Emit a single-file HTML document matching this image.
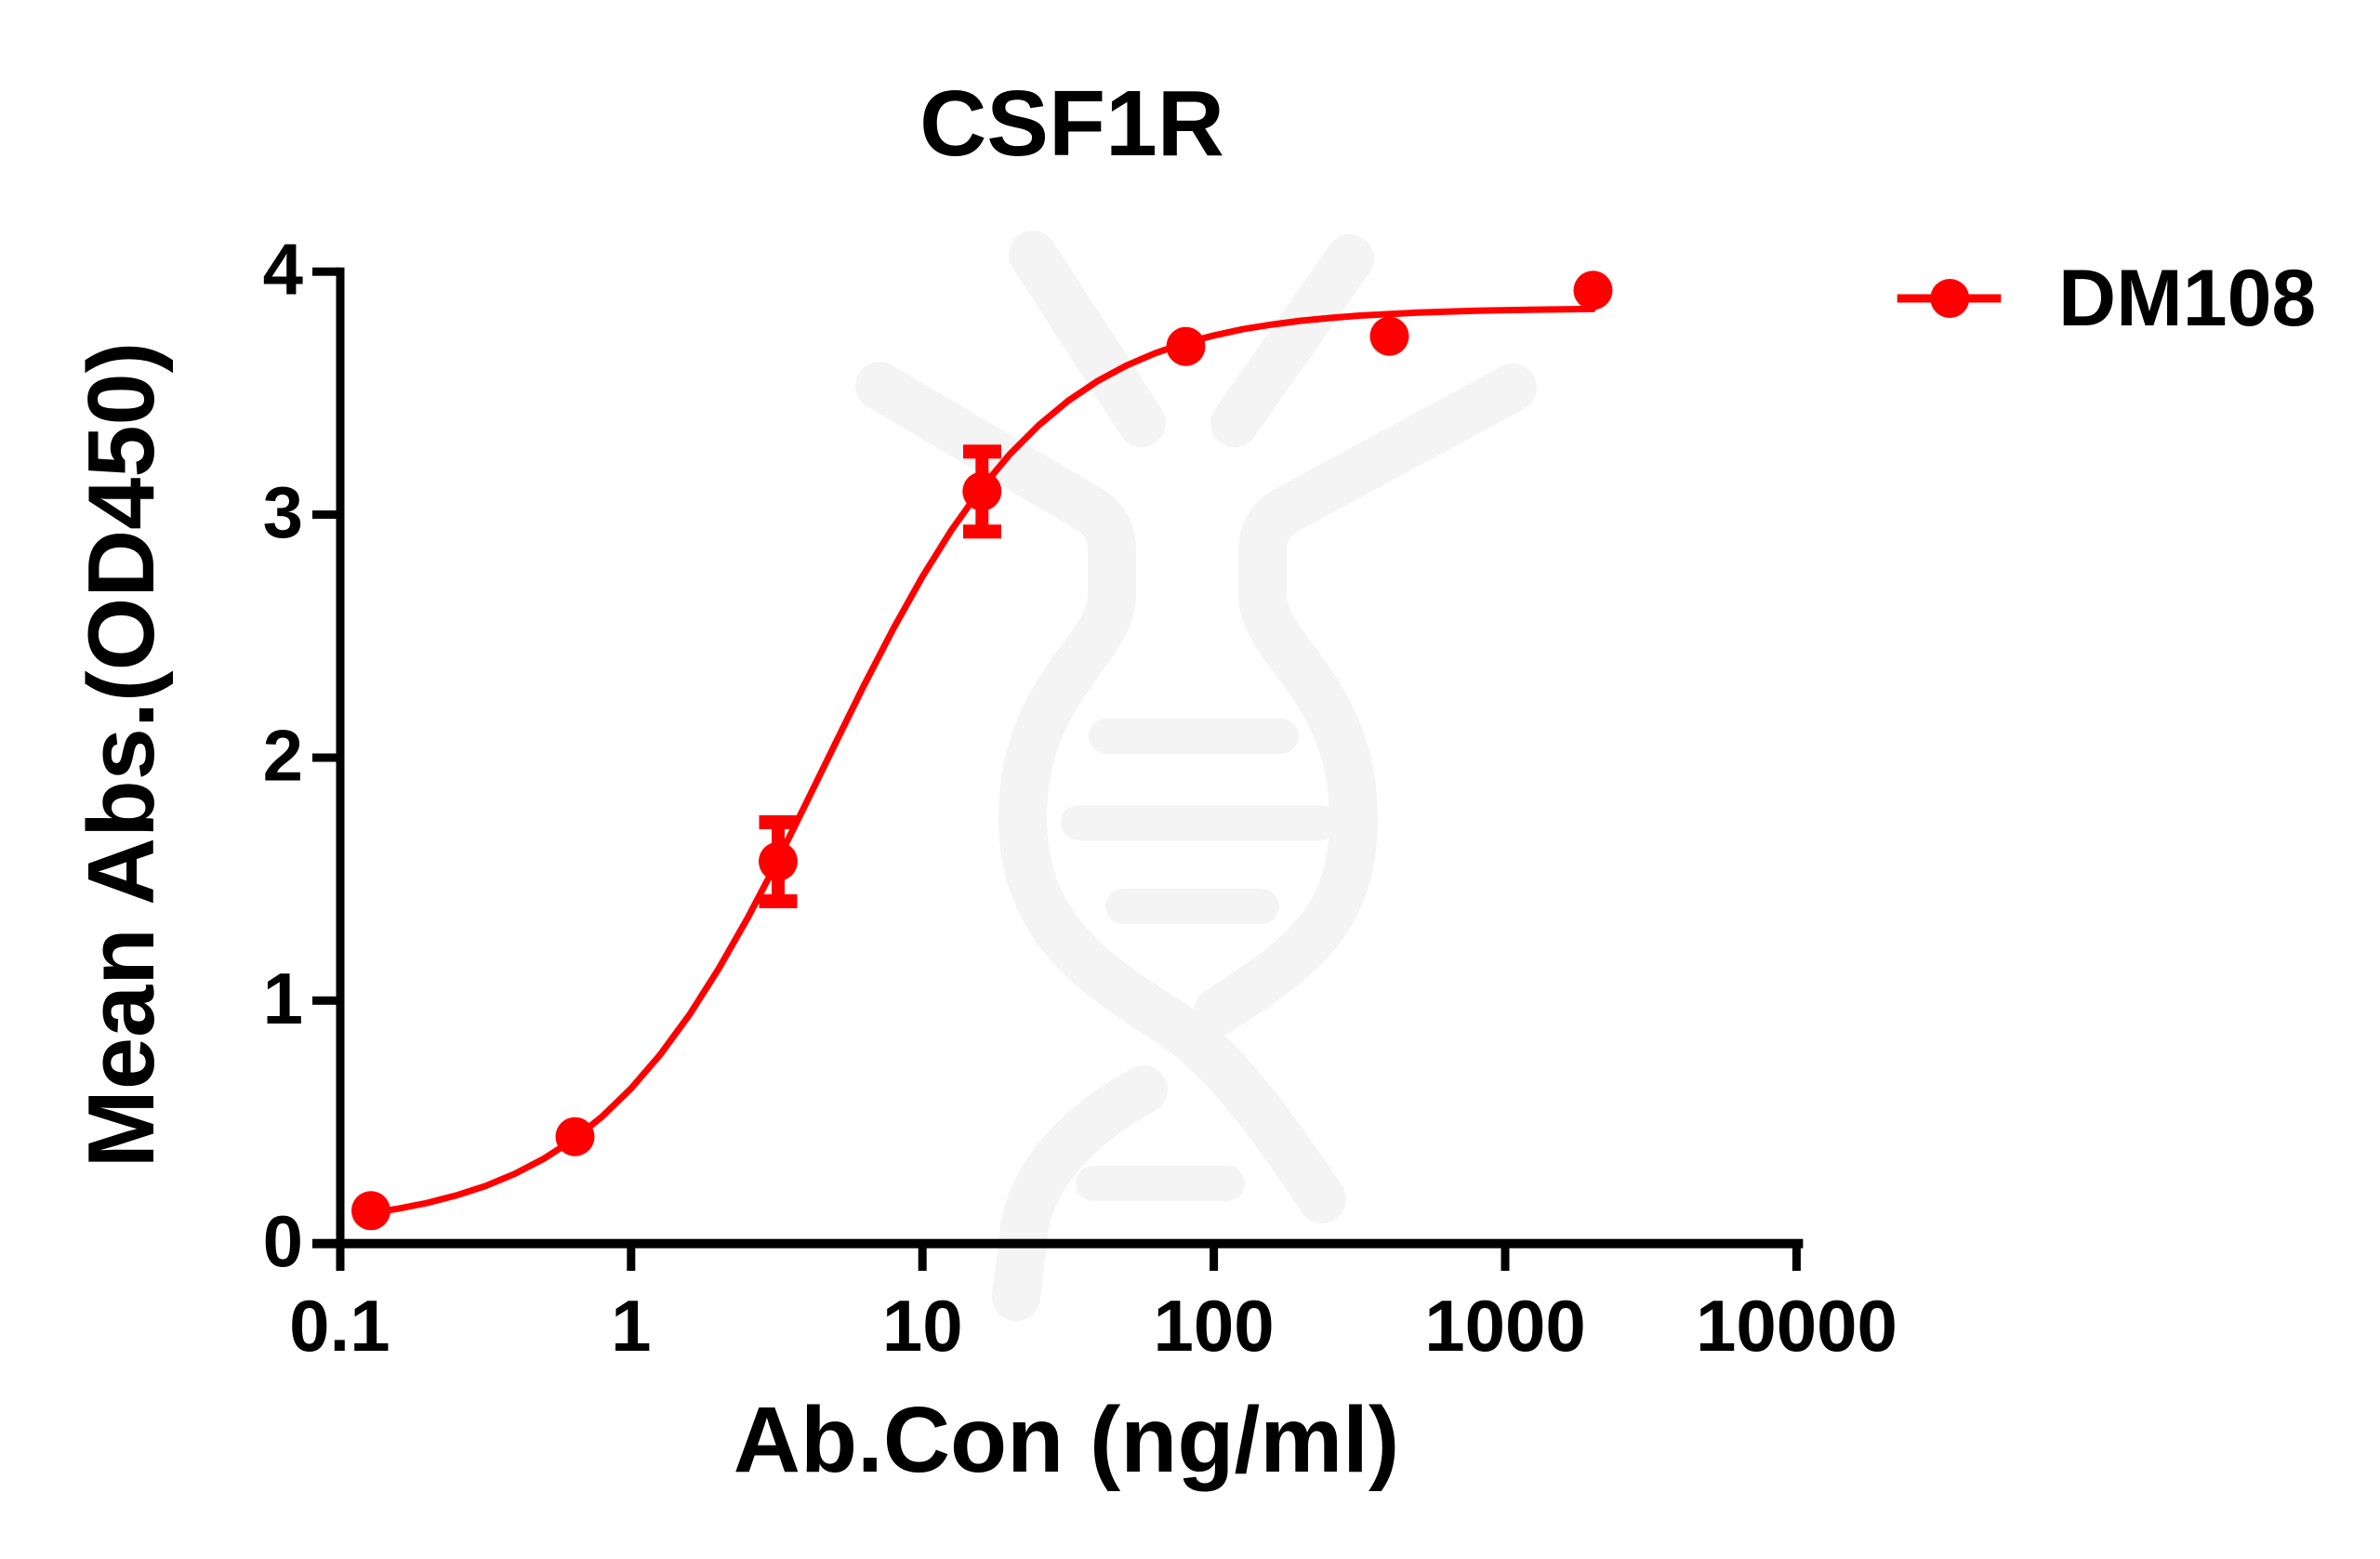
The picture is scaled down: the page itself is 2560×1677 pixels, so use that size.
<!DOCTYPE html>
<html>
<head>
<meta charset="utf-8">
<style>
html,body{margin:0;padding:0;background:#fff;}
svg{display:block;}
text{font-family:"Liberation Sans",Arial,sans-serif;font-weight:bold;fill:#000;}
</style>
</head>
<body>
<svg width="2560" height="1677" viewBox="0 0 2560 1677" xmlns="http://www.w3.org/2000/svg">
<rect x="0" y="0" width="2560" height="1677" fill="#fff"/>

<!-- watermark -->
<g fill="none" stroke="#f4f4f4" stroke-width="52" stroke-linecap="round" stroke-linejoin="round">
  <path d="M1111 274 L1228 455"/>
  <path d="M1452 278 L1328 455"/>
  <path d="M946 415 L1172 548 Q1196 562 1196 592 L1196 640 C1196 700 1100 740 1100 880 C1100 1000 1180 1050 1262 1102 C1325 1145 1380 1228 1422 1290"/>
  <path d="M1627 417 L1385 548 Q1358 562 1358 592 L1358 640 C1358 700 1456 740 1456 880 C1456 990 1400 1030 1310 1088"/>
  <path d="M1230 1172 C1160 1210 1112 1262 1102 1320 L1093 1395"/>
</g>
<g stroke="#f4f4f4" stroke-width="38" stroke-linecap="round">
  <line x1="1190" y1="792" x2="1378" y2="792"/>
  <line x1="1160" y1="885" x2="1420" y2="885"/>
  <line x1="1208" y1="975" x2="1357" y2="975"/>
  <line x1="1176" y1="1273" x2="1320" y2="1273"/>
</g>

<!-- title -->
<text x="1153" y="167" font-size="100" text-anchor="middle">CSF1R</text>

<!-- axes -->
<g fill="#000">
  <rect x="361.5" y="287.7" width="9" height="1079.3"/>
  <rect x="336" y="1332.7" width="1603.4" height="10"/>
  <rect x="336" y="287.7" width="30" height="9"/>
  <rect x="336" y="549.1" width="30" height="9"/>
  <rect x="336" y="810.5" width="30" height="9"/>
  <rect x="336" y="1071.8" width="30" height="9"/>
  <rect x="674.3" y="1337" width="9" height="30"/>
  <rect x="987.7" y="1337" width="9" height="30"/>
  <rect x="1301.1" y="1337" width="9" height="30"/>
  <rect x="1614.5" y="1337" width="9" height="30"/>
  <rect x="1927.9" y="1337" width="9" height="30"/>
</g>

<!-- y tick labels -->
<g font-size="78" text-anchor="end">
  <text x="326" y="316.7">4</text>
  <text x="326" y="578.1">3</text>
  <text x="326" y="839.5">2</text>
  <text x="326" y="1100.8">1</text>
  <text x="326" y="1362.2">0</text>
</g>

<!-- x tick labels -->
<g font-size="78" text-anchor="middle">
  <text x="365.4" y="1453">0.1</text>
  <text x="678.8" y="1453">1</text>
  <text x="992.2" y="1453">10</text>
  <text x="1305.6" y="1453">100</text>
  <text x="1619" y="1453">1000</text>
  <text x="1932.4" y="1453">10000</text>
</g>

<!-- axis titles -->
<text x="1147" y="1583" font-size="100" text-anchor="middle">Ab.Con (ng/ml)</text>
<text transform="translate(165,812) rotate(-90)" x="0" y="0" font-size="101" text-anchor="middle">Mean Abs.(OD450)</text>

<!-- fitted curve -->
<polyline fill="none" stroke="#ff0000" stroke-width="7" stroke-linejoin="round" stroke-linecap="round"
points="399.0,1304.8 428.1,1300.2 459.4,1294.0 490.8,1285.9 522.1,1275.8 553.4,1262.8 584.8,1246.5 616.1,1226.3 647.5,1201.3 678.8,1170.9 710.1,1134.5 741.5,1091.7 772.8,1042.5 804.2,987.5 835.5,927.7 866.8,864.6 898.2,800.4 929.5,736.9 960.9,676.3 992.2,620.3 1023.5,570.1 1054.9,526.1 1086.2,488.6 1117.6,457.2 1148.9,431.2 1180.2,410.1 1211.6,393.2 1242.9,379.8 1274.3,369.1 1305.6,360.9 1336.9,354.1 1368.2,349.1 1399.6,345.0 1430.9,342.0 1462.3,339.5 1525.0,336.2 1587.7,334.2 1650.3,333.1 1713.3,332.4"/>

<!-- error bars -->
<g fill="#ff0000">
  <rect x="830" y="884" width="14" height="85"/>
  <rect x="816.5" y="877" width="41" height="15"/>
  <rect x="816.5" y="962" width="41" height="15"/>
  <rect x="1049.3" y="486" width="14" height="86"/>
  <rect x="1036" y="478.3" width="41" height="15"/>
  <rect x="1036" y="564.3" width="41" height="15"/>
</g>

<!-- data points -->
<g fill="#ff0000">
  <circle cx="399" cy="1302.3" r="21"/>
  <circle cx="618.5" cy="1222.7" r="21"/>
  <circle cx="837" cy="926.6" r="21"/>
  <circle cx="1056.3" cy="528.5" r="21"/>
  <circle cx="1275.5" cy="372.7" r="21"/>
  <circle cx="1494.5" cy="361.7" r="21"/>
  <circle cx="1713.5" cy="312.3" r="21"/>
</g>

<!-- legend -->
<rect x="2040.7" y="316.5" width="111.6" height="9" fill="#ff0000"/>
<circle cx="2097.3" cy="321" r="21" fill="#ff0000"/>
<text x="2214" y="350" font-size="86">DM108</text>
</svg>
</body>
</html>
